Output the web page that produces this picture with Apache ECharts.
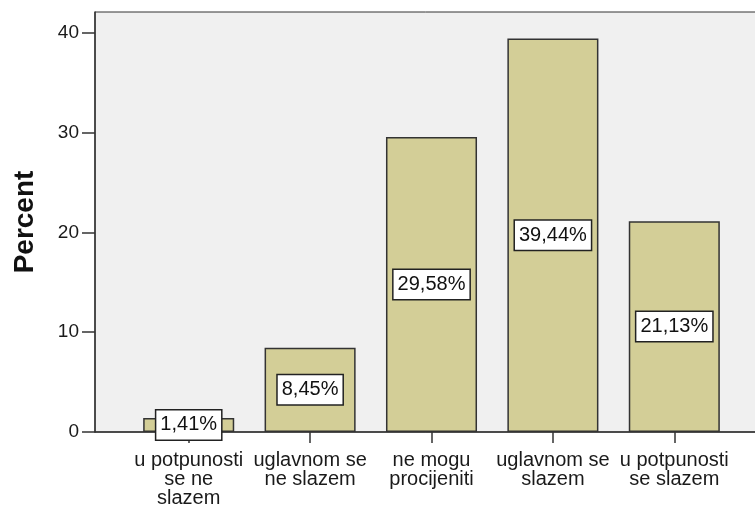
<!DOCTYPE html>
<html>
<head>
<meta charset="utf-8">
<script src="https://cdn.jsdelivr.net/npm/echarts@6/dist/echarts.min.js"></script>
<style>
  html, body { margin: 0; padding: 0; background: #fff; }
  #main { width: 755px; height: 506px; }
</style>
</head>
<body>
<div id="main"></div>
<script>
// data
var categories = ['u potpunosti\nse ne\nslazem', 'uglavnom se\nne slazem', 'ne mogu\nprocijeniti', 'uglavnom se\nslazem', 'u potpunosti\nse slazem'];
var percentValues = [1.41, 8.45, 29.58, 39.44, 21.13];
var yTicks = [0, 10, 20, 30, 40];
var yMax = 42.1;

var FONT = '"Liberation Sans", Arial, sans-serif';

var chart = echarts.init(document.getElementById('main'));

var option = {
    backgroundColor: '#ffffff',
    animation: false,
    grid: [
        // background frame with axis lines
        {
            left: 95, right: -3, top: 12, bottom: 74,
            show: true,
            backgroundColor: '#f0f0f0',
            borderColor: '#333333',
            borderWidth: 1,
            outerBoundsMode: 'none'
        },
        // bar band area
        {
            left: 128, right: 20, top: 12, bottom: 74,
            outerBoundsMode: 'none'
        }
    ],
    xAxis: [
        {
            gridIndex: 0,
            type: 'category',
            data: categories,
            axisLine: { show: true, lineStyle: { color: '#333333', width: 1.5 } },
            axisTick: { show: false },
            axisLabel: { show: false },
            splitLine: { show: false }
        },
        {
            gridIndex: 1,
            type: 'category',
            data: categories,
            axisLine: { show: false },
            axisTick: { show: true, alignWithLabel: true, length: 11, lineStyle: { color: '#333333', width: 1.5 } },
            axisLabel: {
                interval: 0,
                margin: 19,
                color: '#1a1a1a',
                fontFamily: FONT,
                fontSize: 20,
                lineHeight: 19
            },
            splitLine: { show: false }
        }
    ],
    yAxis: [
        {
            gridIndex: 0,
            type: 'value',
            min: 0,
            max: yMax,
            name: 'Percent',
            nameLocation: 'middle',
            nameRotate: 90,
            nameGap: 56,
            nameTextStyle: {
                fontFamily: FONT,
                fontWeight: 'bold',
                fontSize: 28,
                color: '#111111'
            },
            axisLine: { show: true, lineStyle: { color: '#333333', width: 1.5 } },
            axisTick: { show: true, length: 13, customValues: yTicks, lineStyle: { color: '#333333', width: 1.5 } },
            axisLabel: {
                customValues: yTicks,
                margin: 16,
                color: '#1a1a1a',
                fontFamily: FONT,
                fontSize: 19
            },
            splitLine: { show: false }
        },
        {
            gridIndex: 1,
            type: 'value',
            min: 0,
            max: yMax,
            show: false,
            splitLine: { show: false }
        }
    ],
    series: [
        {
            name: 'Percent',
            type: 'bar',
            xAxisIndex: 1,
            yAxisIndex: 1,
            barWidth: '75%',
            data: percentValues,
            itemStyle: {
                color: '#d3ce97',
                borderColor: '#333333',
                borderWidth: 1.5
            },
            label: {
                show: true,
                position: 'inside',
                formatter: function (p) {
                    return p.value.toFixed(2).replace('.', ',') + '%';
                },
                color: '#111111',
                fontFamily: FONT,
                fontSize: 20,
                backgroundColor: '#ffffff',
                borderColor: '#222222',
                borderWidth: 1.5,
                padding: [5, 4, 4, 4]
            }
        }
    ]
};

chart.setOption(option);
</script>
</body>
</html>
